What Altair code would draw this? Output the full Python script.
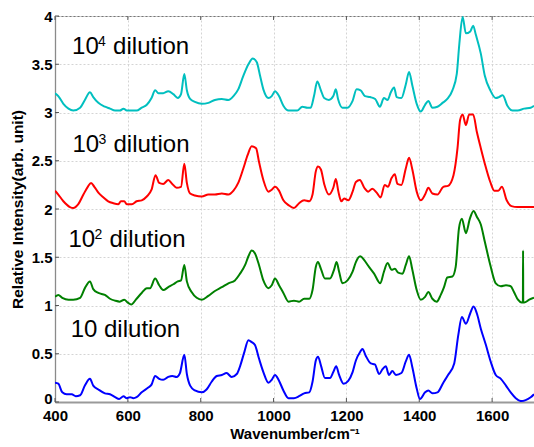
import altair as alt
import pandas as pd

# ---- data (wavenumber, relative intensity) ----
cyan_10e4 = [
    (400, 3.20), (409, 3.17), (423, 3.09), (437, 3.04), (450, 3.02), (469, 3.05), (482, 3.13), (496, 3.21),
    (505, 3.16), (519, 3.10), (537, 3.06), (551, 3.04), (565, 3.02), (578, 3.02), (588, 3.04), (597, 3.02),
    (611, 3.02), (624, 3.02), (638, 3.05), (652, 3.08), (665, 3.15), (675, 3.23), (684, 3.20), (697, 3.20),
    (711, 3.22), (725, 3.19), (737, 3.15), (746, 3.19), (755, 3.40), (762, 3.23), (771, 3.14), (784, 3.11),
    (803, 3.09), (821, 3.10), (839, 3.13), (858, 3.14), (876, 3.13), (890, 3.17), (903, 3.24), (917, 3.38),
    (931, 3.50), (943, 3.56), (954, 3.52), (963, 3.38), (972, 3.24), (986, 3.15), (995, 3.17), (1004, 3.22),
    (1015, 3.17), (1027, 3.07), (1041, 3.02), (1056, 3.02), (1065, 3.02), (1079, 3.06), (1093, 3.05),
    (1102, 3.05), (1111, 3.17), (1120, 3.32), (1130, 3.23), (1139, 3.15), (1152, 3.13), (1164, 3.17),
    (1171, 3.24), (1177, 3.14), (1189, 3.05), (1203, 3.05), (1217, 3.12), (1228, 3.24), (1239, 3.23),
    (1251, 3.17), (1265, 3.16), (1279, 3.14), (1292, 3.06), (1303, 3.15), (1313, 3.13), (1322, 3.21),
    (1331, 3.26), (1338, 3.16), (1351, 3.15), (1363, 3.29), (1372, 3.42), (1381, 3.28), (1393, 3.09),
    (1404, 3.01), (1416, 3.08), (1425, 3.12), (1436, 3.05), (1450, 3.06), (1464, 3.10), (1477, 3.14),
    (1491, 3.23), (1503, 3.40), (1510, 3.71), (1519, 3.99), (1528, 3.82), (1540, 3.84), (1548, 3.90),
    (1555, 3.81), (1569, 3.61), (1580, 3.38), (1595, 3.23), (1610, 3.15), (1619, 3.16), (1629, 3.18),
    (1642, 3.07), (1656, 3.02), (1670, 3.02), (1688, 3.04), (1706, 3.05), (1715, 3.07),
]

red_10e3 = [
    (400, 2.19), (409, 2.15), (423, 2.08), (441, 2.02), (450, 2.01), (464, 2.05), (478, 2.15), (490, 2.23),
    (499, 2.27), (508, 2.23), (519, 2.17), (533, 2.12), (546, 2.08), (560, 2.06), (574, 2.05), (581, 2.08),
    (590, 2.08), (597, 2.05), (611, 2.05), (624, 2.08), (638, 2.09), (652, 2.13), (665, 2.20), (676, 2.35),
    (686, 2.27), (697, 2.26), (711, 2.30), (722, 2.26), (734, 2.22), (746, 2.23), (755, 2.47), (762, 2.27),
    (771, 2.16), (784, 2.14), (803, 2.13), (821, 2.15), (839, 2.15), (858, 2.16), (876, 2.15), (890, 2.19),
    (903, 2.27), (917, 2.42), (929, 2.56), (940, 2.65), (952, 2.63), (960, 2.49), (972, 2.30), (986, 2.18),
    (995, 2.20), (1004, 2.23), (1015, 2.19), (1027, 2.09), (1041, 2.04), (1056, 2.01), (1070, 2.06),
    (1084, 2.09), (1098, 2.08), (1107, 2.15), (1116, 2.39), (1122, 2.44), (1130, 2.41), (1139, 2.26),
    (1152, 2.15), (1164, 2.22), (1171, 2.31), (1178, 2.18), (1186, 2.08), (1194, 2.11), (1205, 2.09),
    (1217, 2.18), (1226, 2.28), (1237, 2.30), (1249, 2.22), (1260, 2.18), (1271, 2.21), (1283, 2.17),
    (1294, 2.12), (1305, 2.25), (1314, 2.23), (1324, 2.32), (1333, 2.36), (1340, 2.26), (1351, 2.25),
    (1363, 2.42), (1372, 2.53), (1381, 2.41), (1393, 2.18), (1404, 2.09), (1416, 2.15), (1425, 2.22),
    (1436, 2.16), (1450, 2.15), (1466, 2.23), (1479, 2.24), (1494, 2.35), (1505, 2.63), (1512, 2.92),
    (1519, 2.98), (1528, 2.87), (1537, 2.98), (1548, 2.98), (1558, 2.80), (1569, 2.63), (1580, 2.47),
    (1595, 2.28), (1606, 2.19), (1617, 2.19), (1627, 2.23), (1640, 2.09), (1653, 2.03), (1670, 2.02),
    (1688, 2.02), (1715, 2.02),
]

green_10e2 = [
    (400, 1.09), (409, 1.11), (420, 1.08), (437, 1.06), (450, 1.06), (469, 1.08), (482, 1.18), (496, 1.25),
    (505, 1.17), (519, 1.13), (537, 1.11), (551, 1.07), (565, 1.05), (578, 1.04), (590, 1.06), (600, 1.03),
    (609, 1.01), (624, 1.07), (638, 1.13), (652, 1.18), (661, 1.18), (675, 1.28), (686, 1.21), (697, 1.16),
    (711, 1.19), (725, 1.22), (737, 1.25), (746, 1.26), (755, 1.42), (762, 1.25), (775, 1.14), (789, 1.08),
    (803, 1.06), (821, 1.10), (839, 1.15), (858, 1.19), (876, 1.23), (894, 1.26), (908, 1.33), (922, 1.42),
    (931, 1.51), (940, 1.57), (949, 1.54), (960, 1.42), (972, 1.26), (986, 1.18), (995, 1.21), (1004, 1.28),
    (1015, 1.21), (1027, 1.13), (1041, 1.04), (1056, 1.05), (1070, 1.04), (1084, 1.07), (1098, 1.07),
    (1107, 1.16), (1116, 1.40), (1122, 1.45), (1130, 1.38), (1141, 1.28), (1155, 1.28), (1166, 1.37),
    (1173, 1.45), (1180, 1.35), (1189, 1.23), (1203, 1.26), (1217, 1.35), (1226, 1.45), (1238, 1.51),
    (1249, 1.47), (1262, 1.40), (1276, 1.33), (1293, 1.23), (1303, 1.35), (1313, 1.44), (1324, 1.37),
    (1333, 1.38), (1342, 1.34), (1354, 1.33), (1363, 1.42), (1372, 1.51), (1381, 1.37), (1393, 1.16),
    (1404, 1.06), (1416, 1.09), (1425, 1.14), (1436, 1.07), (1448, 1.04), (1459, 1.11), (1468, 1.19),
    (1477, 1.29), (1491, 1.30), (1500, 1.40), (1509, 1.80), (1517, 1.90), (1528, 1.75), (1539, 1.90),
    (1549, 1.98), (1558, 1.92), (1569, 1.84), (1580, 1.66), (1595, 1.42), (1610, 1.23), (1624, 1.20),
    (1638, 1.21), (1651, 1.20), (1660, 1.14), (1671, 1.06), (1681, 1.03), (1684.5, 1.03), (1685, 1.57),
    (1685.5, 1.03), (1688, 1.03), (1702, 1.06), (1715, 1.08),
]

blue_10 = [
    (400, 0.20), (409, 0.19), (420, 0.10), (432, 0.08), (446, 0.08), (457, 0.06), (469, 0.07), (482, 0.17),
    (496, 0.24), (505, 0.17), (519, 0.13), (537, 0.09), (551, 0.08), (565, 0.05), (576, 0.03), (588, 0.06),
    (597, 0.04), (606, 0.05), (615, 0.04), (624, 0.05), (638, 0.10), (656, 0.15), (665, 0.18), (675, 0.27),
    (686, 0.24), (697, 0.23), (711, 0.26), (722, 0.27), (734, 0.26), (743, 0.30), (755, 0.49), (762, 0.29),
    (771, 0.17), (784, 0.12), (803, 0.10), (816, 0.13), (830, 0.21), (844, 0.27), (858, 0.28), (871, 0.30),
    (885, 0.26), (899, 0.29), (908, 0.37), (920, 0.52), (931, 0.64), (940, 0.62), (949, 0.59), (960, 0.45),
    (972, 0.31), (986, 0.20), (995, 0.23), (1004, 0.28), (1015, 0.22), (1027, 0.12), (1041, 0.04),
    (1056, 0.04), (1070, 0.06), (1084, 0.09), (1098, 0.10), (1107, 0.21), (1116, 0.43), (1122, 0.47),
    (1130, 0.38), (1141, 0.25), (1155, 0.25), (1164, 0.31), (1172, 0.37), (1180, 0.28), (1192, 0.19),
    (1205, 0.22), (1217, 0.31), (1226, 0.43), (1238, 0.52), (1244, 0.55), (1253, 0.48), (1267, 0.40),
    (1278, 0.39), (1290, 0.29), (1299, 0.34), (1308, 0.37), (1317, 0.28), (1326, 0.32), (1336, 0.28),
    (1351, 0.30), (1363, 0.42), (1372, 0.49), (1381, 0.36), (1393, 0.14), (1402, 0.03), (1416, 0.10),
    (1425, 0.12), (1436, 0.09), (1450, 0.10), (1466, 0.20), (1479, 0.28), (1496, 0.40), (1507, 0.69),
    (1517, 0.88), (1528, 0.81), (1540, 0.92), (1549, 0.99), (1558, 0.92), (1569, 0.76), (1583, 0.59),
    (1596, 0.42), (1610, 0.28), (1624, 0.24), (1638, 0.17), (1651, 0.10), (1665, 0.04), (1679, 0.01),
    (1692, 0.02), (1706, 0.05), (1715, 0.08),
]

series_names = ["10^4", "10^3", "10^2", "10"]
series_colors = ["#00BFBF", "#FF0000", "#008000", "#0000FF"]
series_data = [cyan_10e4, red_10e3, green_10e2, blue_10]

# annotation labels: base "10", superscript exponent, and the word
label_base = ["10", "10", "10", "10 dilution"]
label_exp = ["4", "3", "2"]
label_word = ["dilution", "dilution", "dilution"]
label_x = [447, 448, 437, 443]
label_y = [3.61, 2.59, 1.61, 0.67]

x_ticks = [400, 600, 800, 1000, 1200, 1400, 1600]
y_ticks = [0, 0.5, 1, 1.5, 2, 2.5, 3, 3.5, 4]
x_domain = [400, 1715]
y_domain = [0, 4]

# ---- build tables ----
rows = []
for name, pts in zip(series_names, series_data):
    for i, (w, v) in enumerate(pts):
        rows.append({"series": name, "wn": w, "val": v, "i": i})
df = pd.DataFrame(rows)

base_df = pd.DataFrame({"text": label_base, "wn": label_x, "val": label_y})
exp_df = pd.DataFrame({"text": label_exp, "wn": label_x[:3], "val": label_y[:3]})
word_df = pd.DataFrame({"text": label_word, "wn": label_x[:3], "val": label_y[:3]})
yt_df = pd.DataFrame({"val": y_ticks})
xt_df = pd.DataFrame({"wn": x_ticks})

FONT = "Liberation Sans"

x_axis = alt.Axis(
    values=x_ticks, format="d", title="Wavenumber/cm\u207b\u00b9", titleFont=FONT, titleFontSize=15,
    titleFontWeight="bold", titleColor="black", titlePadding=3,
    labelFont=FONT, labelFontSize=15, labelFontWeight="bold", labelColor="black",
    labelPadding=6, labelFlush=False, ticks=False,
    grid=True, gridColor="#d4d4d4", gridDash=[2, 2], gridWidth=1,
    domainColor="#9a9a9a", domainWidth=2,
)
y_axis = alt.Axis(
    values=y_ticks, format="~g", title="Relative Intensity(arb. unit)", titleFont=FONT,
    titleFontSize=15.5, titleFontWeight="bold", titleColor="black", titlePadding=6,
    labelFont=FONT, labelFontSize=15, labelFontWeight="bold", labelColor="black",
    labelPadding=3, labelFlush=False, ticks=False,
    labelOffset={"condition": {"test": "datum.value == 0", "value": -4}, "value": 0},
    grid=True, gridColor="#d4d4d4", gridDash=[2, 2], gridWidth=1,
    domainColor="#8a8a8a", domainWidth=1.3,
)


def X():
    return alt.X("wn:Q", scale=alt.Scale(domain=x_domain, nice=False, zero=False), axis=x_axis)


def Y():
    return alt.Y("val:Q", scale=alt.Scale(domain=y_domain, nice=False), axis=y_axis)


lines = alt.Chart(df).mark_line(strokeWidth=2, clip=True, interpolate="monotone").encode(
    x=X(), y=Y(),
    color=alt.Color("series:N", scale=alt.Scale(domain=series_names, range=series_colors), legend=None),
    order="i:Q",
)

base_text = alt.Chart(base_df).mark_text(
    align="left", baseline="alphabetic", font=FONT, fontSize=24, color="black"
).encode(x=X(), y=Y(), text="text:N")
exp_text = alt.Chart(exp_df).mark_text(
    align="left", baseline="alphabetic", font=FONT, fontSize=14, color="black", dx=26, dy=-8
).encode(x=X(), y=Y(), text="text:N")
word_text = alt.Chart(word_df).mark_text(
    align="left", baseline="alphabetic", font=FONT, fontSize=24, color="black", dx=41
).encode(x=X(), y=Y(), text="text:N")

ytick_left = alt.Chart(yt_df).mark_rule(color="#555555", strokeWidth=1).encode(
    y=Y(), x=alt.value(0), x2=alt.value(4)
)
xtick_top = alt.Chart(xt_df).mark_rule(color="#555555", strokeWidth=1).encode(
    x=X(), y=alt.value(0), y2=alt.value(4)
)
xtick_bottom = alt.Chart(xt_df).mark_rule(color="#555555", strokeWidth=1).encode(
    x=X(), y=alt.value(386), y2=alt.value(382)
)

chart = alt.layer(ytick_left, xtick_top, xtick_bottom, lines, base_text, exp_text, word_text).properties(
    width=479, height=386,
    autosize=alt.AutoSizeParams(type="none"),
    padding={"left": 55, "top": 16, "right": 0, "bottom": 45},
    background="white",
).configure_view(stroke="#777777", strokeWidth=1)

chart.save("out.html", embed_options={"renderer": "svg", "actions": False})
